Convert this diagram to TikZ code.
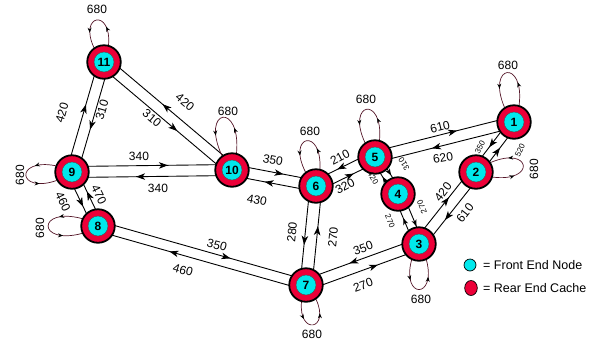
\documentclass[tikz,border=0pt]{standalone}
\usepackage{fontspec}
\setmainfont{Liberation Sans}
\usetikzlibrary{calc,arrows.meta,decorations.markings,shapes.geometric}
\pgfdeclarelayer{back}
\pgfsetlayers{back,main}
\definecolor{ringred}{RGB}{236,0,56}
\definecolor{corecyan}{RGB}{0,232,236}
\definecolor{loopcol}{RGB}{84,22,40}
\tikzset{
  cache/.style={circle, draw=black, line width=1.8pt, fill=ringred, minimum size=33.5pt, inner sep=0pt},
  core/.style={circle, draw=black!70, line width=0.4pt, fill=corecyan, minimum size=20pt, inner sep=0pt,
    font=\bfseries\fontsize{12}{12}\selectfont},
  link/.style={draw=black, line width=0.9pt},
  fwd/.style={postaction={decorate}, decoration={markings, mark=at position #1 with
    {\arrow{Stealth[length=9pt,width=6.5pt,inset=2.5pt]}}}},
  fwd/.default=0.6,
  fwdsmall/.style={postaction={decorate}, decoration={markings, mark=at position #1 with
    {\arrow{Stealth[length=6.5pt,width=5pt,inset=1.8pt]}}}},
  loopline/.style={draw=loopcol, line width=0.7pt, postaction={decorate}, decoration={markings,
    mark=at position 0.3 with {\arrow[black]{Stealth[length=5pt,width=4pt]}},
    mark=at position 0.75 with {\arrow[black]{Stealth[length=5pt,width=4pt]}}}},
  cost/.style={font=\fontsize{12}{12}\selectfont, inner sep=0pt},
  costsmall/.style={font=\fontsize{8}{8}\selectfont, inner sep=0pt},
  legendtext/.style={font=\fontsize{12.5}{13}\selectfont, inner sep=0pt, anchor=west},
}
% a cache node: red ring with a cyan core and its number
\newcommand\cachenode[3]{\node[cache] (#1) at (#2) {};\node[core] (#1c) at (#2) {#3};}
% one directed lane of a two-way link, shifted sideways by #4
\newcommand\lane[4][fwd]{\draw[link,#1] ($(#2)!#4!90:(#3)$) -- ($(#3)!#4!-90:(#2)$);}
% self loop around a node: centre angle #2, reach #3
\newcommand\selfloop[3]{\draw[loopline] ($(#1)+({#2-25}:17.5)$) .. controls +({#2-15}:#3) and +({#2+15}:#3) .. ($(#1)+({#2+25}:17.5)$);}

\begin{document}
\begin{tikzpicture}[x=1pt,y=1pt]
\useasboundingbox (0,0) rectangle (602,-346);

% nodes
\cachenode{n11}{104,-62}{11}
\cachenode{n9}{72,-172}{9}
\cachenode{n8}{98,-226}{8}
\cachenode{n10}{232,-170}{10}
\cachenode{n6}{316,-186}{6}
\cachenode{n5}{375,-157}{5}
\cachenode{n4}{398,-194}{4}
\cachenode{n3}{419,-244}{3}
\cachenode{n7}{306,-285}{7}
\cachenode{n2}{476,-172}{2}
\cachenode{n1}{514,-122}{1}

\begin{pgfonlayer}{back}
% two-way links
\lane{n9}{n11}{5.5pt}
\lane{n11}{n9}{5.5pt}
\lane[fwd=0.57]{n10}{n11}{-5.5pt}
\lane{n11}{n10}{-5.5pt}
\lane{n9}{n10}{5.5pt}
\lane{n10}{n9}{5.5pt}
\lane{n9}{n8}{-5pt}
\lane{n8}{n9}{-5pt}
\lane[fwd=0.63]{n8}{n7}{5pt}
\lane[fwd=0.65]{n7}{n8}{5pt}
\lane{n10}{n6}{5.5pt}
\lane{n6}{n10}{5.5pt}
\lane{n5}{n6}{-5.5pt}
\lane{n6}{n5}{-5.5pt}
\lane{n6}{n7}{-6pt}
\lane{n7}{n6}{-6pt}
\lane{n5}{n1}{5.5pt}
\lane{n1}{n5}{5.5pt}
\lane[fwdsmall=0.52]{n4}{n5}{4pt}
\lane[fwdsmall=0.55]{n5}{n4}{4pt}
\lane[fwdsmall=0.55]{n3}{n4}{4.5pt}
\lane[fwdsmall=0.68]{n4}{n3}{4.5pt}
\lane[fwd=0.62]{n7}{n3}{-5.5pt}
\lane{n3}{n7}{-5.5pt}
\lane{n3}{n2}{5.5pt}
\lane[fwd=0.62]{n2}{n3}{5.5pt}
\lane[fwd=0.56]{n1}{n2}{-4.5pt}
\lane[fwd=0.54]{n2}{n1}{-4.5pt}
% self loops
\selfloop{n11}{100}{37}
\selfloop{n10}{100}{52}
\selfloop{n6}{102}{42}
\selfloop{n5}{100}{45}
\selfloop{n1}{98}{47}
\selfloop{n3}{270}{41}
\selfloop{n7}{280}{34}
\selfloop{n2}{8}{44}
\selfloop{n9}{184}{42}
\selfloop{n8}{180}{47}
\end{pgfonlayer}

% self loop costs
\node[cost] (s11) at (97,-9) {680};
\node[cost] (s10) at (228,-111) {680};
\node[cost] (s6) at (310,-131) {680};
\node[cost] (s5) at (366,-99) {680};
\node[cost] (s1) at (508,-65) {680};
\node[cost,rotate=90] (s2) at (534,-169) {680};
\node[cost] (s3) at (421,-299) {680};
\node[cost] (s7) at (312,-334) {680};
\node[cost,rotate=90] (s9) at (20,-175) {680};
\node[cost,rotate=90] (s8) at (40,-228) {680};

% link costs
\node[cost,rotate=74] (c1) at (62,-113) {420};
\node[cost,rotate=74] (c2) at (102,-110) {310};
\node[cost,rotate=-40] (c3) at (185,-102) {420};
\node[cost,rotate=-40] (c4) at (152,-118) {310};
\node[cost] (c5) at (139,-156) {340};
\node[cost] (c6) at (158,-188) {340};
\node[cost,rotate=-64] (c7) at (63,-202) {460};
\node[cost,rotate=-64] (c8) at (99,-195) {470};
\node[cost,rotate=-16] (c9) at (217,-245) {350};
\node[cost,rotate=-16] (c10) at (183,-270) {460};
\node[cost,rotate=-11] (c11) at (273,-160) {350};
\node[cost,rotate=-11] (c12) at (257,-200) {430};
\node[cost,rotate=28] (c13) at (340,-157) {210};
\node[cost,rotate=28] (c14) at (345,-186) {320};
\node[cost,rotate=84] (c15) at (292,-232) {280};
\node[cost,rotate=84] (c16) at (333,-237) {270};
\node[cost,rotate=14] (c17) at (440,-127) {610};
\node[cost,rotate=10] (c18) at (443,-158) {620};
\node[costsmall,rotate=122] (c19) at (404,-164) {310};
\node[costsmall,rotate=-58] (c20) at (373,-178) {420};
\node[costsmall,rotate=-67] (c21) at (390,-221) {270};
\node[costsmall,rotate=113] (c22) at (422,-207) {270};
\node[cost,rotate=20] (c23) at (363,-248) {350};
\node[cost,rotate=20] (c24) at (363,-285) {270};
\node[cost,rotate=52] (c25) at (443,-192) {420};
\node[cost,rotate=52] (c26) at (465,-213) {610};
\node[costsmall,rotate=62] (c27) at (480,-147) {350};
\node[costsmall,rotate=65] (c28) at (520,-150) {520};

% legend
\node[circle, draw=black, line width=0.7pt, fill=corecyan, minimum size=12pt, inner sep=0pt] (kf) at (470,-265) {};
\node[ellipse, draw=black, line width=0.7pt, fill=ringred, minimum width=12.6pt, minimum height=15pt, inner sep=0pt] (kr) at (471,-288) {};
\node[legendtext] (tf) at (483,-265) {= Front End Node};
\node[legendtext] (tr) at (483,-288) {= Rear End Cache};
\end{tikzpicture}
\end{document}
